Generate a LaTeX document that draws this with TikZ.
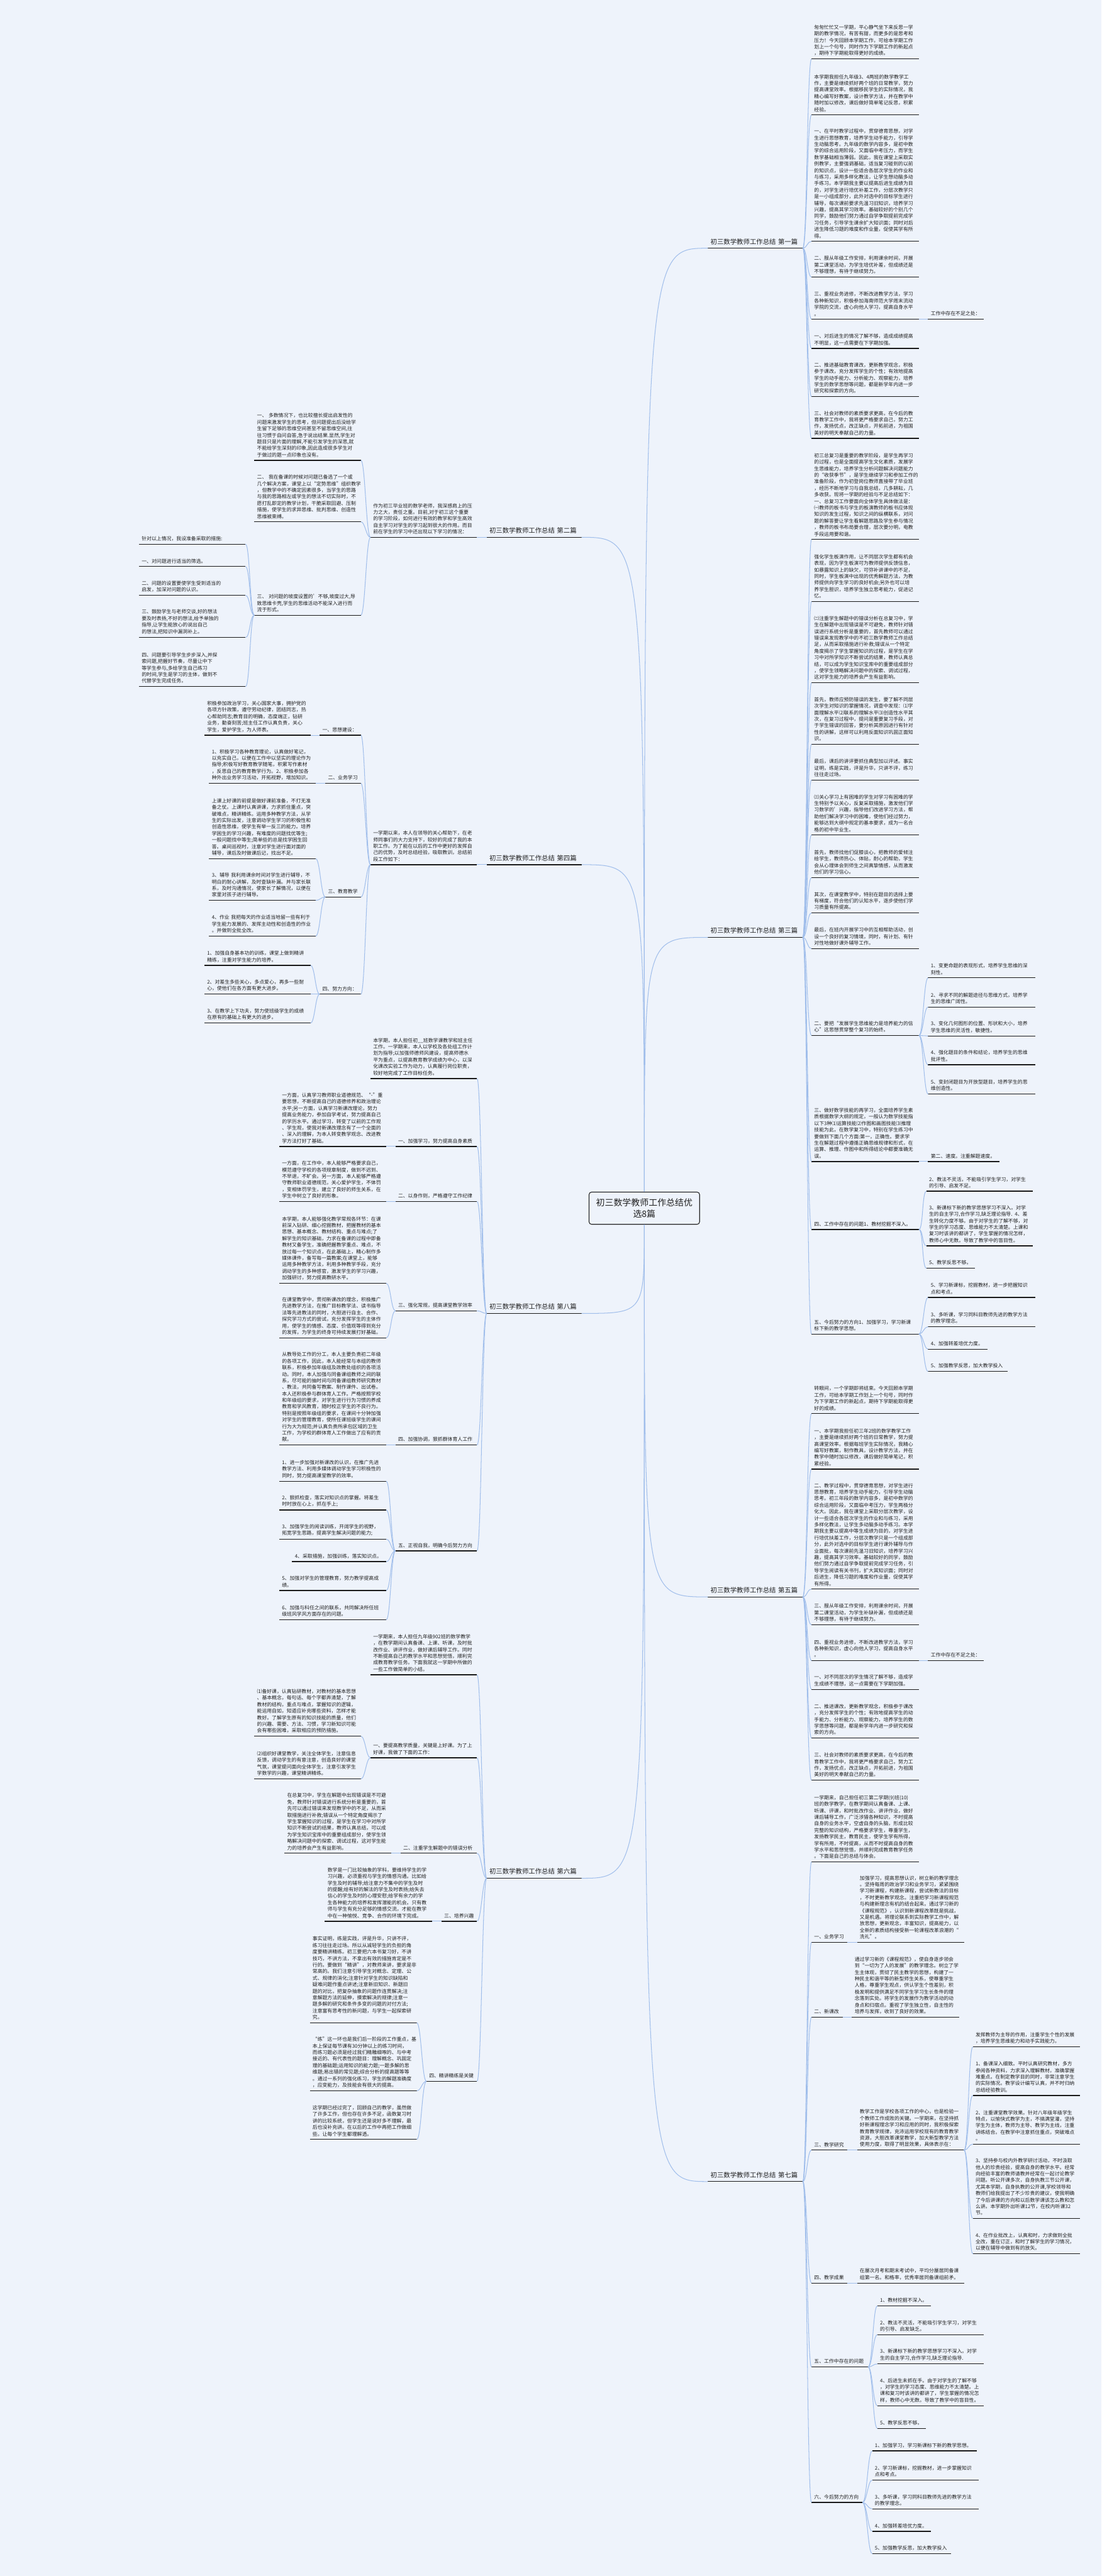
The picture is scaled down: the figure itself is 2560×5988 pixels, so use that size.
\documentclass[tikz,border=0pt]{standalone}
\usepackage{fontspec}
\setmainfont{Noto Sans CJK SC}
\definecolor{bgc}{RGB}{238,243,251}
\definecolor{txtc}{RGB}{32,32,32}
\definecolor{ulc}{RGB}{25,25,25}
\definecolor{connc}{RGB}{160,190,235}
\tikzset{
  uline/.style={draw=ulc,line width=0.9pt},
  conn/.style={draw=connc,line width=0.75pt},
  tn/.style={inner xsep=3pt,inner ysep=3.5pt,align=left,text=txtc,
    font=\fontsize{5.75}{7.6}\selectfont,
    append after command={(\tikzlastnode.south west) edge[uline] (\tikzlastnode.south east)}},
  lbl/.style={inner xsep=3pt,inner ysep=4pt,align=left,text=txtc,
    font=\fontsize{7.6}{9}\selectfont,
    append after command={(\tikzlastnode.south west) edge[uline] (\tikzlastnode.south east)}},
  rootn/.style={draw=black!85,line width=0.8pt,rounded corners=3pt,align=center,
    minimum width=128.5pt,minimum height=37.5pt,inner sep=2pt,text=txtc,
    font=\fontsize{10.2}{13.5}\selectfont}
}
\newcommand\tn[6][tn]{%
  \pgfmathsetlengthmacro\tnw{(#4-#3)*0.5-6}%
  \node[#1,text width=\tnw,anchor=south west] (#2) at (#3,#5) {#6};}
\newcommand\rconn[2]{\foreach \cn in {#2}{\draw[conn] (#1.south east) .. controls +(10,0) and +(-10,0) .. (\cn.south west);}}
\newcommand\lconn[2]{\foreach \cn in {#2}{\draw[conn] (#1.south west) .. controls +(-10,0) and +(10,0) .. (\cn.south east);}}
\begin{document}
\begin{tikzpicture}[x=0.5pt,y=-0.5pt]
\fill[bgc] (0,0) rectangle (2560,5988);
\useasboundingbox (0,0) rectangle (2560,5988);

\node[rootn] (root) at (1497.5,2808.5) {初三数学教师工作总结优\\选8篇};

% ================= 第一篇 =================
\tn[lbl]{L1}{1645}{1865}{577}{初三数学教师工作总结 第一篇}
\tn{a1}{1886}{2135}{137}{匆匆忙忙又一学期，平心静气坐下来反思一学\\期的教学情况，有苦有甜，而更多的是思考和\\压力！今天回顾本学期工作，可给本学期工作\\划上一个句号，同时作为下学期工作的新起点\\，期待下学期能取得更好的成绩。}
\tn{b1}{1886}{2135}{267}{本学期我担任九年级3、4两班的数学教学工\\作，主要是继续抓好两个班的日常教学，努力\\提高课堂效率。根据移民学生的实际情况，我\\精心编写好教案，设计教学方法，并在教学中\\随时加以修改，课后做好简单笔记反思，积累\\经验。}
\tn{c1}{1886}{2135}{561}{一、在平时教学过程中，贯穿德育思想，对学\\生进行思想教育，培养学生动手能力，引导学\\生动脑思考。九年级的数学内容多，是初中数\\学的综合运用阶段，又面临中考压力，而学生\\数学基础相当薄弱。因此，我在课堂上采取实\\例教学，主要强调基础，适当复习碰到的以前\\的知识点，设计一些适合各层次学生的作业和\\与练习，采用多样化教法，让学生想动脑多动\\手练习。本学期我主要以提高后进生成绩为目\\的，对学生进行培优补差工作，分层次教学只\\是一小组成部分，此外对选中的目标学生进行\\辅导，每次课前要求先温习旧知识，培养学习\\兴趣，提高其学习效率。基础较好的个别几个\\同学，鼓励他们努力通过自学争取提前完成学\\习任务，引导学生课余扩大知识面；同时对后\\进生降低习题的难度和作业量，促使其学有所\\得。}
\tn{d1}{1886}{2135}{644}{二、服从年级工作安排，利用课余时间，开展\\第二课堂活动，为学生培优补差，但成绩还是\\不够理想，有待于继续努力。}
\tn{e1}{1886}{2135}{742}{三、重视业务进修，不断改进教学方法，学习\\各种新知识，积极参加海南师范大学周末流动\\学院的交流，虚心向他人学习，提高自身水平\\。}
\tn{e1a}{2157}{2286}{742}{工作中存在不足之处：}
\tn{f1}{1886}{2135}{810}{一、对后进生的情况了解不够，造成成绩提高\\不明显，这一点需要在下学期加强。}
\tn{g1}{1886}{2135}{922}{二、推进基础教育课改，更新教学观念，积极\\参于课改，充分发挥学生的个性；有效地提高\\学生的动手能力、分析能力、观察能力，培养\\学生的数学思想等问题，都是新学年内进一步\\研究和探索的方向。}
\tn{h1}{1886}{2135}{1019}{三、社会对教师的素质要求更高，在今后的教\\育教学工作中，我将更严格要求自己，努力工\\作，发扬优点，改正缺点，开拓前进，为祖国\\美好的明天奉献自己的力量。}

% ================= 第三篇 =================
\tn[lbl]{L3}{1645}{1865}{2179}{初三数学教师工作总结 第三篇}
\tn{a3}{1886}{2135}{1254}{初三总复习是重要的教学阶段，是学生再学习\\的过程，也是全面提高学生文化素质，发展学\\生思维能力，培养学生分析问题解决问题能力\\的“收获季节”，是学生继续学习和参加工作的\\准备阶段，作为初登岗位教师直接带了毕业班\\，经历不断地学习与自我总结，几多耕耘，几\\多收获。现将一学期的经验与不足总结如下：\\一、总复习工作要面向全体学生具体做法是：\\㈠教师的板书与学生的板演教师的板书应体现\\知识的发生过程，知识之间的纵横联系，对问\\题的解答要让学生看解题思路及学生参与情况\\，教师的板书布局要合理，层次要分明，电教\\手段运用要和谐。}
\tn{b3}{1886}{2135}{1398}{强化学生板演作用，让不同层次学生都有机会\\表现，因为学生板演可为教师提供反馈信息，\\如暴露知识上的缺欠，可弥补讲课中的不足，\\同时，学生板演中出现的优秀解题方法，为教\\师提供向学生学习的良好机会;另外也可以培\\养学生胆识，培养学生独立思考能力，促进记\\忆。}
\tn{c3}{1886}{2135}{1587}{㈡注重学生解题中的错误分析在总复习中，学\\生在解题中出现错误是不可避免，教师针对错\\误进行系统分析是重要的，首先教师可以通过\\错误来发现教学中的不初三数学教师工作总结\\足，从而采取措施进行补救;错误从一个特定\\角度揭示了学生掌握知识的过程，是学生在学\\习中对所学知识不断尝试的结果，教师认真总\\结，可以成为学生知识宝库中的重要组成部分\\，使学生领略解决问题中的探索、调试过程，\\这对学生能力的培养会产生有益影响。}
\tn{d3}{1886}{2135}{1730}{首先，教师应预防错误的发生，要了解不同层\\次学生对知识的掌握情况，调查中发现：⑴字\\面理解水平⑵联系的理解水平⑶创造性水平其\\次，在复习过程中，提问是重要复习手段，对\\于学生错误的回答，要分析其原因进行有针对\\性的讲解，这样可以利用反面知识巩固正面知\\识。}
\tn{e3}{1886}{2135}{1813}{最后，课后的讲评要抓住典型加以评述。事实\\证明，练是实践，评是升华，只讲不评，练习\\往往走过场。}
\tn{f3}{1886}{2135}{1941}{㈢关心学习上有困难的学生对学习有困难的学\\生特别予以关心，反复采取措施，激发他们学\\习数学的'兴趣，指导他们改进学习方法，帮\\助他们解决学习中的困难，使他们经过努力，\\能够达到大纲中规定的基本要求，成为一名合\\格的初中毕业生。}
\tn{g3}{1886}{2135}{2040}{首先，教师找他们促膝谈心，把教师的爱倾注\\给学生，教师热心、体贴，耐心的帮助，学生\\会从心理体会到师生之间真挚情感，从而激发\\他们的学习信心。}
\tn{h3}{1886}{2135}{2122}{其次，在课堂教学中，特别在题目的选择上要\\有梯度，符合他们的认知水平，逐步使他们学\\习质量有所提高。}
\tn{i3}{1886}{2135}{2205}{最后，在班内开展学习中的互相帮助活动，创\\设一个良好的复习情境，同时，有计划、有针\\对性地做好课外辅导工作。}
\tn{j3}{1886}{2135}{2407}{二、要把“发展学生思维能力是培养能力的信\\心”这思想贯穿整个复习的始终。}
\tn{j3a}{2157}{2405}{2273}{1、变更命题的表现形式，培养学生思维的深\\刻性。}
\tn{j3b}{2157}{2405}{2341}{2、寻求不同的解题途径与思维方式，培养学\\生的思维广阔性。}
\tn{j3c}{2157}{2405}{2408}{3、变化几何图形的位置、形状和大小，培养\\学生思维的灵活性，敏捷性。}
\tn{j3d}{2157}{2405}{2475}{4、强化题目的条件和结论，培养学生的思维\\批评性。}
\tn{j3e}{2157}{2405}{2543}{5、变封闭题目为开放型题目，培养学生的思\\维创造性。}
\tn{k3}{1886}{2135}{2700}{三、做好数学技能的再学习，全面培养学生素\\质根据数学大纲的规定，一般认为数学技能指\\以下3种⑴运算技能⑵作图和画图技能⑶推理\\技能为此，在数学复习中，特别在学生练习中\\要做到下面几个方面:第一，正确性。要求学\\生在解题过程中遵循正确思维规律和形式，在\\运算、推理、作图中和所得结论中都要准确无\\误。}
\tn{k3a}{2157}{2322}{2700}{第二、速度。注重解题速度。}
\tn{l3}{1886}{2135}{2858}{四、工作中存在的问题1、教材挖掘不深入。}
\tn{l3a}{2153}{2400}{2769}{2、教法不灵活，不能吸引学生学习，对学生\\的引导、启发不足。}
\tn{l3b}{2153}{2400}{2896}{3、新课标下新的教学思想学习不深入。对学\\生的自主学习,合作学习,缺乏理论指导. 4、差\\生转化力度不够。由于对学生的了解不够，对\\学生的学习态度、思维能力不太清楚。上课和\\复习时该讲的都讲了，学生掌握的情况怎样，\\教师心中无数。导致了教学中的盲目性。}
\tn{l3c}{2153}{2265}{2948}{5、教学反思不够。}
\tn{m3}{1886}{2135}{3101}{五、今后努力的方向1、加强学习，学习新课\\标下新的教学思想。}
\tn{m3a}{2157}{2405}{3016}{5、学习新课标，挖掘教材，进一步把握知识\\点和考点。}
\tn{m3b}{2157}{2405}{3084}{3、多听课，学习同科目教师先进的教学方法\\的教学理念。}
\tn{m3c}{2157}{2294}{3136}{4、加强转差培优力度。}
\tn{m3d}{2157}{2341}{3188}{5、加强教学反思，加大教学投入}

% ================= 第五篇 =================
\tn[lbl]{L5}{1645}{1865}{3712}{初三数学教师工作总结 第五篇}
\tn{a5}{1886}{2135}{3286}{转眼间，一个学期即将结束。今天回顾本学期\\工作，可给本学期工作划上一个句号，同时作\\为下学期工作的新起点，期待下学期能取得更\\好的成绩。}
\tn{b5}{1886}{2135}{3415}{一、本学期我担任初三年2班的数学教学工作\\，主要是继续抓好两个班的日常教学，努力提\\高课堂效率。根据每班学生实际情况，我精心\\编写好教案，制作教具，设计教学方法，并在\\教学中随时加以修改，课后做好简单笔记，积\\累经验。}
\tn{c5}{1886}{2135}{3694}{二、教学过程中，贯穿德育思想，对学生进行\\思想教育，培养学生动手能力，引导学生动脑\\思考。初三年段的数学内容多，是初中数学的\\综合运用阶段，又面临中考压力，学生两极分\\化大。因此，我在课堂上采取分层次教学，设\\计一些适合各层次学生的作业和与练习，采用\\多样化教法，让学生多动脑多动手练习。本学\\期我主要以提高中等生成绩为目的，对学生进\\行培优扶差工作，分层次教学只是一个组成部\\分，此外对选中的目标学生进行课外辅导与作\\业面批，每次课前先温习旧知识，培养学习兴\\趣，提高其学习效率。基础较好的同学，鼓励\\他们努力通过自学争取提前完成学习任务，引\\导学生阅读有关书刊，扩大其知识面；同时对\\后进生，降低习题的难度和作业量，促使其学\\有所得。}
\tn{d5}{1886}{2135}{3777}{三、服从年级工作安排，利用课余时间，开展\\第二课堂活动，为学生补缺补漏，但成绩还是\\不够理想，有待于继续努力。}
\tn{e5}{1886}{2135}{3860}{四、重视业务进修，不断改进教学方法，学习\\各种新知识，虚心向他人学习，提高自身水平\\。}
\tn{e5a}{2157}{2286}{3860}{工作中存在不足之处：}
\tn{f5}{1886}{2135}{3927}{一、对不同层次的学生情况了解不够，造成学\\生成绩不理想，这一点需要在下学期加强。}
\tn{g5}{1886}{2135}{4040}{二、推进课改，更新教学观念，积极参于课改\\，充分发挥学生的个性；有效地提高学生的动\\手能力、分析能力、观察能力，培养学生的数\\学思想等问题，都是新学年内进一步研究和探\\索的方向。}
\tn{h5}{1886}{2135}{4138}{三、社会对教师的素质要求更高，在今后的教\\育教学工作中，我将更严格要求自己，努力工\\作，发扬优点，改正缺点，开拓前进，为祖国\\美好的明天奉献自己的力量。}

% ================= 第七篇 =================
\tn[lbl]{L7}{1645}{1865}{5071}{初三数学教师工作总结 第七篇}
\tn{a7}{1886}{2135}{4328}{一学期来，自己担任初三第二学期(9)班(10)\\班的数学教学，在教学期间认真备课、上课、\\听课、评课，和时批改作业、讲评作业，做好\\课后辅导工作，广泛涉猎各种知识，不时提高\\自身的业务水平，空虚自身的头脑，形成比较\\完整的知识结构，严格要求学生，尊重学生，\\发扬教学民主，教育民主，使学生学有所得，\\学有所用，不时提高，从而不时提高自身的教\\学水平和思想觉悟，并顺利完成教育教学任务\\。下面是自己的总结与体会。}
\tn{b7}{1886}{1969}{4515}{一、业务学习}
\tn{b7a}{1992}{2240}{4515}{加强学习，提高思想认识，树立新的教学理念\\。坚持每周的政治学习和业务学习，紧紧围绕\\学习新课程，构建新课程，尝试新教法的目标\\，不时更新教学观念。注重把学习新课程规范\\与构建新理念有机的结合起来。通过学习新的\\《课程规范》，认识到新课程改革既是挑战，\\又是机遇。将理论联系到实际教学工作中，解\\放思想，更新观念，丰富知识，提高能力，以\\全新的素质结构接受新一轮课程改革浪潮的“\\洗礼”。}
\tn{c7}{1886}{1958}{4689}{二、新课改}
\tn{c7a}{1980}{2228}{4689}{通过学习新的《课程规范》，使自身逐步领会\\到“一切为了人的发展”的教学理念。树立了学\\生主体观，贯彻了民主教学的思想，构建了一\\种民主和谐平等的新型师生关系，使尊重学生\\人格，尊重学生观点，供认学生个性差别，积\\极发明和提供满足不同学生学习生长条件的理\\念落到实处。将学生的发展作为教学活动的动\\身点和归宿点。重视了学生独立性，自主性的\\培养与发挥，收到了良好的效果。}
\tn{d7}{1886}{1969}{4998}{三、教学研究}
\tn{d7a}{1992}{2240}{4998}{教学工作是学校各项工作的中心，也是检验一\\个教师工作成败的关键。一学期来，在坚持抓\\好新课程理念学习和应用的同时，我积极探索\\教育教学规律，充沛运用学校现有的教育教学\\资源，大胆改革课堂教学，加大新型教学方法\\使用力度，取得了明显效果，具体表示在：}
\tn{d7b}{2261}{2509}{4758}{发挥教师为主导的作用，注重学生个性的发展\\，培养学生思维能力和动手实践能力。}
\tn{d7c}{2261}{2509}{4871}{1、备课深入细致。平时认真研究教材，多方\\参阅各种资料，力求深入理解教材，准确掌握\\难重点。在制定教学目的同时，非常注意学生\\的实际情况。教学设计编写认真，并不时归纳\\总结经验教训。}
\tn{d7d}{2261}{2509}{4984}{2、注重课堂教学效果。针对八年级年级学生\\特点，以愉快式教学为主，不搞满堂灌，坚持\\学生为主体，教师为主导、教学为主线，注重\\讲练结合。在教学中注意抓住重点，突破难点\\。}
\tn{d7e}{2261}{2509}{5157}{3、坚持参与校内外教学研讨活动，不时汲取\\他人的珍贵经验，提高自身的教学水平。经常\\向经验丰富的教师请教并经常在一起讨论教学\\问题。听公开课多次，自身执教三节公开课，\\尤其本学期，自身执教的公开课,学校领导和\\教师们给我提出了不少珍贵的建议，使我明确\\了今后讲课的方向和以后数学课该怎么教和怎\\么讲。本学期外出听课12节，在校内听课32\\节。}
\tn{d7f}{2261}{2509}{5239}{4、在作业批改上，认真和时，力求做到全批\\全改，重在订正，和时了解学生的学习情况，\\以便在辅导中做到有的放矢。}
\tn{e7}{1886}{1969}{5307}{四、教学成果}
\tn{e7a}{1992}{2240}{5307}{在屡次月考和期末考试中，平均分屡居同备课\\组第一名。和格率，优秀率居同备课组前矛。}
\tn{f7}{1886}{2017}{5502}{五、工作中存在的问题}
\tn{f7a}{2039}{2163}{5360}{1、教材挖掘不深入。}
\tn{f7b}{2039}{2286}{5427}{2、教法不灵活，不能吸引学生学习，对学生\\的引导、启发缺乏。}
\tn{f7c}{2039}{2286}{5495}{3、新课标下新的教学思想学习不深入。对学\\生的自主学习,合作学习,缺乏理论指导.}
\tn{f7d}{2039}{2286}{5592}{4、后进生未抓在手。由于对学生的了解不够\\，对学生的学习态度、思维能力不太清楚。上\\课和复习时该讲的都讲了，学生掌握的情况怎\\样，教师心中无数。导致了教学中的盲目性。}
\tn{f7e}{2039}{2151}{5645}{5、教学反思不够。}
\tn{g7}{1886}{2004}{5817}{六、今后努力的方向}
\tn{g7a}{2027}{2269}{5697}{1、加强学习，学习新课标下新的教学思想。}
\tn{g7b}{2027}{2274}{5765}{2、学习新课标，挖掘教材，进一步掌握知识\\点和考点。}
\tn{g7c}{2027}{2274}{5832}{3、多听课，学习同科目教师先进的教学方法\\的教学理念。}
\tn{g7d}{2027}{2163}{5884}{4、加强转差培优力度。}
\tn{g7e}{2027}{2210}{5936}{5、加强教学反思，加大教学投入}

% ================= 第二篇 =================
\tn[lbl]{L2}{1131}{1351}{1249}{初三数学教师工作总结 第二篇}
\tn{P2}{861}{1108}{1249}{作为初三毕业班的数学老师，我深感肩上的压\\力之大，责任之重。目前,对于初三这个重要\\的学习阶段，如何进行有效的教学和学生高效\\自主学习对学生的学习起到很大的作用。而目\\前在学生的学习中还出现以下学习的情况：}
\tn{a2}{591}{838}{1070}{一、 多数情况下，也比较擅长提出启发性的\\问题来激发学生的思考，但问题提出后没给学\\生留下足够的思维空间甚至不留思维空间,往\\往习惯于自问自答,急于说出结果.显然,学生对\\题目只是片面的理解,不能引发学生的深思,就\\不能给学生深刻的印象,因此造成很多学生对\\于做过的题一点印象也没有。}
\tn{b2}{591}{838}{1213}{二、 我在备课的时候对问题已备选了一个或\\几个解决方案，课堂上以“定势思维”组织教学\\，但教学中的不确定因素很多，当学生的思路\\与我的思路相左或学生的想法不切实际时，不\\愿打乱即定的教学计划，干脆采取回避、压制\\措施，使学生的求异思维、批判思维、创造性\\思维被束缚。}
\tn{c2}{591}{838}{1430}{三、 对问题的坡度设置的'不够,坡度过大,导\\致思维卡壳,学生的思维活动不能深入进行而\\流于形式。}
\tn{c2a}{323}{570}{1265}{针对以上情况，我设准备采取的措施:}
\tn{c2b}{323}{570}{1317}{一、对问题进行适当的筛选。}
\tn{c2c}{323}{570}{1384}{二、问题的设置要使学生受到适当的\\启发，加深对问题的认识。}
\tn{c2d}{323}{570}{1482}{三、鼓励学生与老师交谈,好的想法\\要及时表扬,不好的想法,给予单独的\\指导,让学生能放心的说出自己\\的想法,把知识中漏洞补上。}
\tn{c2e}{323}{570}{1596}{四、问题要引导学生步步深入,并探\\索问题,把握好节奏，尽量让中下\\等学生参与,多给学生自己练习\\的时间,学生是学习的主体，做到不\\代替学生完成任务。}

% ================= 第四篇 =================
\tn[lbl]{L4}{1131}{1351}{2010}{初三数学教师工作总结 第四篇}
\tn{P4}{861}{1108}{2010}{一学期以来，本人在领导的关心帮助下，在老\\师同事们的大力支持下，较好的完成了我的本\\职工作。为了能在以后的工作中更好的发挥自\\己的优势，及时总结经验，吸取教训，总结前\\段工作如下：}
\tn{s4}{743}{838}{1709}{一、思想建设：}
\tn{s4a}{475}{721}{1709}{积极参加政治学习，关心国家大事，拥护党的\\各项方针政策，遵守劳动纪律，团结同志，热\\心帮助同志;教育目的明确，态度端正，钻研\\业务，勤奋刻苦;班主任工作认真负责，关心\\学生，爱护学生，为人师表。}
\tn{t4}{756}{838}{1821}{二、业务学习}
\tn{t4a}{486}{733}{1821}{1、积极学习各种教育理论，认真做好笔记，\\以充实自己，以便在工作中以坚实的理论作为\\指导;积极写好教育教学随笔，积累写作素材\\，反思自己的教育教学行为。2、积极参加各\\种外出业务学习活动，开拓视野，增加知识。}
\tn{u4}{756}{838}{2085}{三、教育教学}
\tn{u4a}{486}{733}{1996}{上课上好课的前提是做好课前准备，不打无准\\备之仗。上课时认真讲课，力求抓住重点，突\\破难点，精讲精练。运用多种教学方法，从学\\生的实际出发，注意调动学生学习的积极性和\\创造性思维，使学生有举一反三的能力。培养\\学困生的学习兴趣，有难度的问题找优等生;\\一般问题找中等生;简单些的总是找学困生回\\答。桌间巡视时，注意对学生进行面对面的\\辅导，课后及时做课后记，找出不足。}
\tn{u4b}{486}{733}{2093}{3、辅导 我利用课余时间对学生进行辅导，不\\明白的耐心讲解，及时查缺补漏。并与家长联\\系，及时沟通情况，使家长了解情况，以便在\\家里对孩子进行辅导。}
\tn{u4c}{486}{733}{2176}{4、作业 我把每天的作业适当地留一些有利于\\学生能力发展的、发挥主动性和创造性的作业\\。并做到全批全改。}
\tn{v4}{743}{838}{2311}{四、努力方向：}
\tn{v4a}{475}{721}{2244}{1、加强自身基本功的训练，课堂上做到精讲\\精练，注重对学生能力的培养。}
\tn{v4b}{475}{721}{2311}{2、对差生多些关心，多点爱心，再多一些耐\\心，使他们在各方面有更大进步。}
\tn{v4c}{475}{721}{2378}{3、在教学上下功夫，努力使班级学生的成绩\\在原有的基础上有更大的进步。}

% ================= 第八篇 =================
\tn[lbl]{L8}{1131}{1351}{3053}{初三数学教师工作总结 第八篇}
\tn{P8}{861}{1108}{2507}{本学期，本人担任初\_\_班数学课教学和班主任\\工作。一学期来，本人以学校及各处组工作计\\划为指导;以加强师德师风建设，提高师德水\\平为重点，以提高教育教学成绩为中心，以深\\化课改实验工作为动力，认真履行岗位职责，\\较好地完成了工作目标任务。}
\tn{w8}{919}{1108}{2665}{一、加强学习，努力提高自身素质}
\tn{w8a}{649}{897}{2665}{一方面，认真学习教师职业道德规范、“-”重\\要思想，不断提高自己的道德修养和政治理论\\水平;另一方面，认真学习新课改理论，努力\\提高业务能力，参加自学考试，努力提高自己\\的学历水平。通过学习，转变了以前的工作观\\、学生观，使我对新课改理念有了一个全面的\\、深入的理解，为本人转变教学观念、改进教\\学方法打好了基础。}
\tn{x8}{919}{1108}{2793}{二、以身作则，严格遵守工作纪律}
\tn{x8a}{649}{897}{2793}{一方面，在工作中，本人能够严格要求自己，\\模范遵守学校的各项规章制度，做到不迟到、\\不早退，不旷会。另一方面，本人能够严格遵\\守教师职业道德规范，关心爱护学生，不体罚\\，变相体罚学生，建立了良好的师生关系，在\\学生中树立了良好的形象。}
\tn{y8}{919}{1108}{3047}{三、强化常规，提高课堂教学效率}
\tn{y8a}{649}{897}{2983}{本学期，本人能够强化教学常规各环节：在课\\前深入钻研、细心挖掘教材，把握教材的基本\\思想、基本概念、教材结构、重点与难点;了\\解学生的知识基础，力求在备课的过程中即备\\教材又备学生，准确把握教学重点、难点，不\\放过每一个知识点，在此基础上，精心制作多\\媒体课件，备写每一篇教案;在课堂上，能够\\运用多种教学方法，利用多种教学手段，充分\\调动学生的多种感官，激发学生的学习兴趣，\\加强研讨，努力提高教研水平。}
\tn{y8b}{649}{897}{3110}{在课堂教学中，贯彻新课改的理念，积极推广\\先进教学方法，在推广目标教学法、读书指导\\法等先进教法的同时，大胆进行自主、合作、\\探究学习方式的尝试，充分发挥学生的主体作\\用，使学生的情感、态度、价值观等得到充分\\的发挥，为学生的终身可持续发展打好基础。}
\tn{z8}{919}{1108}{3359}{四、加强协调，狠抓群体育人工作}
\tn{z8a}{649}{897}{3359}{从教导处工作的分工，本人主要负责初二年级\\的各项工作，因此，本人能经常与本组的教师\\联系，积极参加年级组及政教处组织的各项活\\动。同时，本人加强与同备课组教师之间的联\\系，尽可能的抽时间与同备课组教师研究教材\\、教法，共同备写教案、制作课件、出试卷。\\本人还积极参与群体育人工作。严格按照学校\\和年级组的要求，对学生进行行为习惯的养成\\教育和学风教育，随时校正学生的不良行为。\\特别是按照年级组的要求，在课间十分钟加强\\对学生的管理教育，使所任课班级学生的课间\\行为大为规范;并认真负责所承包区域的卫生\\工作，为学校的群体育人工作做出了应有的贡\\献。}
\tn{q8}{919}{1108}{3605}{五、正视自我，明确今后努力方向}
\tn{q8a}{649}{897}{3443}{1、进一步加强对新课改的认识，在推广先进\\教学方法、利用多媒体调动学生学习积极性的\\同时，努力提高课堂教学的效率。}
\tn{q8b}{649}{897}{3510}{2、狠抓检查，落实对知识点的掌握。将差生\\时时放在心上，抓在手上;}
\tn{q8c}{649}{897}{3578}{3、加强学生的阅读训练，开阔学生的视野，\\拓宽学生思路，提高学生解决问题的能力;}
\tn{q8d}{679}{897}{3630}{4、采取措施，加强训练，落实知识点。}
\tn{q8e}{649}{897}{3697}{5、加强对学生的管理教育，努力教学提高成\\绩。}
\tn{q8f}{649}{897}{3765}{6、加强与科任之间的联系，共同解决所任班\\级班风学风方面存在的问题。}

% ================= 第六篇 =================
\tn[lbl]{L6}{1131}{1351}{4366}{初三数学教师工作总结 第六篇}
\tn{P6}{861}{1108}{3893}{一学期来，本人担任九年级902班的数学教学\\，在教学期间认真备课、上课、听课，及时批\\改作业、讲评作业，做好课后辅导工作。同时\\不断提高自己的教学水平和思想觉悟，顺利完\\成教育教学任务。下面我就这一学期中所做的\\一些工作做简单的小结。}
\tn{k6}{861}{1108}{4086}{一、要提高教学质量，关键是上好课。为了上\\好课，我做了下面的工作：}
\tn{k6a}{591}{838}{4036}{⑴备好课，认真钻研教材，对教材的基本思想\\、基本概念，每句话、每个字都弄清楚，了解\\教材的结构，重点与难点，掌握知识的逻辑，\\能运用自如，知道应补充哪些资料，怎样才能\\教好。了解学生原有的知识技能的质量，他们\\的兴趣、需要、方法、习惯，学习新知识可能\\会有哪些困难，采取相应的预防措施。}
\tn{k6b}{591}{838}{4135}{⑵组织好课堂教学，关注全体学生，注意信息\\反馈，调动学生的有意注意，创造良好的课堂\\气氛，课堂提问面向全体学生，注意引发学生\\学数学的兴趣，课堂精讲精练。}
\tn{m6}{931}{1108}{4308}{二、注重学生解题中的错误分析}
\tn{m6a}{661}{909}{4308}{在总复习中，学生在解题中出现错误是不可避\\免，教师针对错误进行系统分析是重要的，首\\先可以通过错误来发现教学中的不足，从而采\\取措施进行补救;错误从一个特定角度揭示了\\学生掌握知识的过程，是学生在学习中对所学\\知识不断尝试的结果，教师认真总结，可以成\\为学生知识宝库中的重要组成部分，使学生领\\略解决问题中的探索、调试过程，这对学生能\\力的培养会产生有益影响。}
\tn{n6}{1026}{1108}{4466}{三、培养兴趣}
\tn{n6a}{755}{1003}{4466}{数学是一门比较抽象的学科，要维持学生的学\\习兴趣，必须重视与学生的情感沟通。比如给\\学生及时的辅导;给注意力不集中的学生及时\\的提醒;给有好的解法的学生及时表扬;给失去\\信心的学生及时的心理安慰;给学有余力的学\\生各种能力的培养和发挥潜能的机会。只有教\\师与学生有充分足够的情感交流，才能在教学\\中在一种愉悦、竞争、合作的环境下完成。}
\tn{o6}{991}{1108}{4838}{四、精讲精练是关键}
\tn{o6a}{720}{968}{4702}{事实证明，练是实践，评是升华，只讲不评，\\练习往往走过场。所以从减轻学生的负担的角\\度要精讲精练。初三要把六本书复习好，不讲\\技巧，不讲方法，不拿出有效的措施肯定是不\\行的。要做到“精讲”，对教师来讲，要求是非\\常高的。我们注意引导学生对概念、定理、公\\式、规律的消化;注意针对学生的知识缺陷和\\疑难问题作重点讲述;注意新旧知识、新题旧\\题的对比，把复杂抽象的问题作连贯解决;注\\意解题方法的延伸，摸索解决的规律;注意一\\题多解的研究和条件多变的问题的对付方法;\\注意富有思考性的新问题，与学生一起探索研\\究。}
\tn{o6b}{720}{968}{4860}{“练”这一环也是我们后一阶段的工作重点，基\\本上保证每节课有30分钟以上的练习时间，\\而练习题必须是经过我们精雕细啄的、与中考\\接近的、有代表性的题目：理解概念、巩固定\\理的基础题;运用知识的能力题;一题多解的思\\维题;易出错的常见题;综合分析的提高题等等\\。通过一系列的强化练习，学生的解题准确度\\，应变能力，及技能会有很大的提高。}
\tn{o6c}{720}{968}{4973}{这学期已经过完了，回顾自己的教学，虽然做\\了许多工作，但也存在许多不足，函数复习时\\讲的比较系统，但学生还是说好多不理解，最\\后也没补充讲。在以后的工作中再把工作做细\\些。让每个学生都理解透。}

% ================= connectors =================
\foreach \lb in {L1,L3} {\draw[conn] (root.north) .. controls (root.north |- \lb.south west) .. (\lb.south west);}
\foreach \lb in {L2,L4} {\draw[conn] (root.north) .. controls (root.north |- \lb.south east) .. (\lb.south east);}
\foreach \lb in {L5,L7} {\draw[conn] (root.south) .. controls (root.south |- \lb.south west) .. (\lb.south west);}
\foreach \lb in {L8,L6} {\draw[conn] (root.south) .. controls (root.south |- \lb.south east) .. (\lb.south east);}

\rconn{L1}{a1,b1,c1,d1,e1,f1,g1,h1}
\rconn{e1}{e1a}
\rconn{L3}{a3,b3,c3,d3,e3,f3,g3,h3,i3,j3,k3,l3,m3}
\rconn{j3}{j3a,j3b,j3c,j3d,j3e}
\rconn{k3}{k3a}
\rconn{l3}{l3a,l3b,l3c}
\rconn{m3}{m3a,m3b,m3c,m3d}
\rconn{L5}{a5,b5,c5,d5,e5,f5,g5,h5}
\rconn{e5}{e5a}
\rconn{L7}{a7,b7,c7,d7,e7,f7,g7}
\rconn{b7}{b7a}
\rconn{c7}{c7a}
\rconn{d7}{d7a}
\rconn{d7a}{d7b,d7c,d7d,d7e,d7f}
\rconn{e7}{e7a}
\rconn{f7}{f7a,f7b,f7c,f7d,f7e}
\rconn{g7}{g7a,g7b,g7c,g7d,g7e}

\lconn{L2}{P2}
\lconn{P2}{a2,b2,c2}
\lconn{c2}{c2a,c2b,c2c,c2d,c2e}
\lconn{L4}{P4}
\lconn{P4}{s4,t4,u4,v4}
\lconn{s4}{s4a}
\lconn{t4}{t4a}
\lconn{u4}{u4a,u4b,u4c}
\lconn{v4}{v4a,v4b,v4c}
\lconn{L8}{P8,w8,x8,y8,z8,q8}
\lconn{w8}{w8a}
\lconn{x8}{x8a}
\lconn{y8}{y8a,y8b}
\lconn{z8}{z8a}
\lconn{q8}{q8a,q8b,q8c,q8d,q8e,q8f}
\lconn{L6}{P6,k6,m6,n6,o6}
\lconn{k6}{k6a,k6b}
\lconn{m6}{m6a}
\lconn{n6}{n6a}
\lconn{o6}{o6a,o6b,o6c}
\end{tikzpicture}
\end{document}
